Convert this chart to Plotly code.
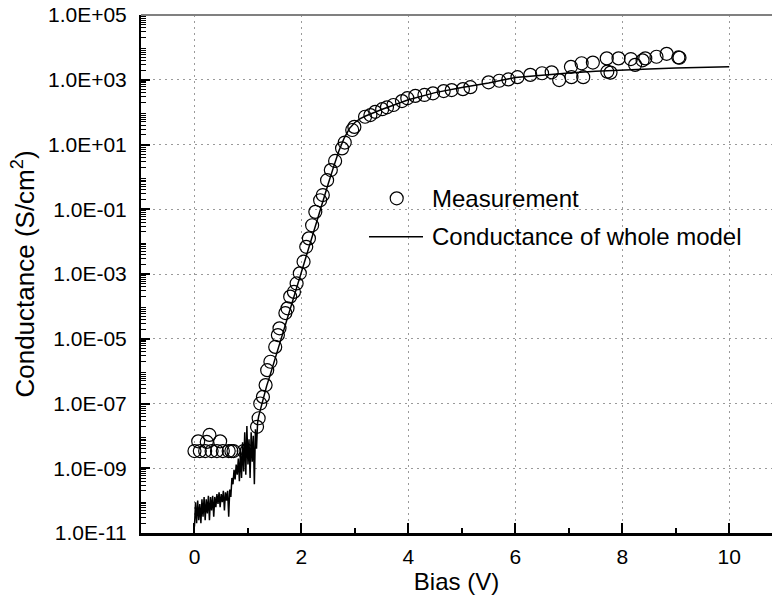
import plotly.graph_objects as go

# ---------------- data ----------------
meas_bias = [0.00, 0.07, 0.10, 0.20, 0.23, 0.28, 0.32, 0.42, 0.48, 0.53, 0.64, 0.69, 0.73,
             0.92, 0.98, 1.17, 1.20, 1.23, 1.28, 1.33, 1.36, 1.42, 1.51, 1.56, 1.59,
             1.70, 1.74, 1.79, 1.86, 1.91, 1.97, 2.04, 2.09, 2.14, 2.20, 2.26, 2.35,
             2.40, 2.48, 2.55, 2.63, 2.76, 2.81, 2.95, 2.99, 3.19, 3.29, 3.38, 3.51,
             3.60, 3.72, 3.88, 3.98, 4.13, 4.30, 4.46, 4.66, 4.81, 5.02, 5.16, 5.50,
             5.70, 5.87, 6.04, 6.28, 6.50, 6.68, 6.82, 7.04, 7.05, 7.24, 7.27, 7.45,
             7.71, 7.72, 7.78, 7.93, 8.16, 8.24, 8.38, 8.43, 8.64, 8.83, 9.05, 9.07]
meas_cond = [3.4e-9, 6.8e-9, 3.4e-9, 3.4e-9, 6.5e-9, 1.07e-8, 3.4e-9, 3.4e-9, 6.8e-9, 3.4e-9,
             3.4e-9, 3.4e-9, 3.4e-9, 3.4e-9, 3.5e-9, 1.9e-8, 3.5e-8, 1.0e-7, 1.6e-7, 3.7e-7,
             1.07e-6, 1.95e-6, 5.6e-6, 1.3e-5, 2.1e-5, 6.2e-5, 8.7e-5, 2.0e-4, 2.8e-4, 5.1e-4,
             1.05e-3, 2.4e-3, 6.9e-3, 1.26e-2, 3.2e-2, 8.3e-2, 0.19, 0.275, 0.79, 1.62,
             3.1, 7.6, 11.5, 28, 35, 72, 81, 102, 123, 141, 166, 219, 269, 316, 339, 380,
             447, 479, 513, 589, 832, 933, 1023, 1202, 1413, 1585, 1698, 977, 2512, 1202,
             3236, 1202, 3388, 4571, 1778, 1660, 4571, 4365, 2884, 3981, 4571, 5129, 6310,
             4898, 4786]

model_bias = [0.00, 0.02, 0.04, 0.06, 0.08, 0.10, 0.12, 0.14, 0.16, 0.18, 0.20, 0.22, 0.24,
              0.26, 0.28, 0.30, 0.32, 0.34, 0.36, 0.38, 0.40, 0.42, 0.44, 0.46, 0.48, 0.50,
              0.52, 0.54, 0.56, 0.58, 0.60, 0.62, 0.64, 0.66, 0.68, 0.70, 0.72, 0.74, 0.76,
              0.78, 0.80, 0.82, 0.84, 0.86, 0.88, 0.90, 0.92, 0.94, 0.96, 0.98, 1.00, 1.02,
              1.04, 1.06, 1.08, 1.10, 1.12, 1.14, 1.16, 1.18, 1.20, 1.25, 1.30, 1.35, 1.40,
              1.50, 1.60, 1.70, 1.80, 1.90, 2.00, 2.10, 2.20, 2.30, 2.40, 2.50, 2.60, 2.70,
              2.80, 2.90, 3.00, 3.10, 3.20, 3.50, 4.00, 4.50, 5.00, 5.50, 6.00, 6.50, 7.00,
              7.50, 8.00, 8.50, 9.00, 9.50, 10.00]
model_cond = [1.6e-11, 8.9e-11, 2.0e-11, 1.0e-10, 2.5e-11, 7.9e-11, 2.0e-11, 1.1e-10, 3.2e-11,
              1.3e-10, 2.5e-11, 1.1e-10, 4.0e-11, 1.4e-10, 2.5e-11, 1.3e-10, 5.0e-11, 1.4e-10,
              3.2e-11, 1.3e-10, 6.3e-11, 1.6e-10, 7.9e-11, 1.8e-10, 6.3e-11, 1.6e-10, 8.9e-11,
              2.0e-10, 5.0e-11, 1.8e-10, 1.0e-10, 2.0e-10, 3.2e-11, 2.2e-10, 1.3e-10, 5.0e-10,
              3.2e-10, 8.9e-10, 4.5e-10, 1.3e-9, 6.3e-10, 2.0e-9, 4.0e-10, 3.2e-9, 5.0e-10,
              6.3e-9, 7.9e-10, 1.3e-8, 6.3e-10, 2.0e-8, 1.3e-9, 7.9e-9, 5.0e-10, 1.3e-8,
              1.6e-9, 1.0e-8, 3.2e-10, 1.6e-8, 4.0e-9, 2.5e-8, 4.0e-8, 8.9e-8, 1.8e-7, 3.5e-7,
              6.3e-7, 2.2e-6, 7.9e-6, 2.8e-5, 1.0e-4, 3.7e-4, 1.35e-3, 4.7e-3, 1.6e-2, 5.4e-2,
              0.18, 0.60, 2.0, 6.3, 15.8, 31.6, 47.9, 63, 76, 120, 240, 400, 575, 795, 1175,
              1410, 1620, 1820, 2000, 2140, 2290, 2400, 2510]

x_tick_vals = [0, 2, 4, 6, 8, 10]
x_minor_vals = [1, 3, 5, 7, 9]
y_label_exponents = [-11, -9, -7, -5, -3, -1, 1, 3, 5]
y_plain_exponents = [-10, -8, -6, -4, -2, 0, 2, 4]
legend_labels = ["Measurement", "Conductance of whole model"]

# ---------------- figure ----------------
FONT = "Liberation Sans, Arial, sans-serif"

y_tick_vals = [10.0 ** k for k in y_label_exponents]
y_tick_text = ["1.0E%+03d" % k for k in y_label_exponents]
y_plain_vals = [10.0 ** k for k in y_plain_exponents]
y_minor_vals = [m * 10.0 ** k for k in range(-11, 5) for m in range(2, 10)]

GRID = dict(showgrid=True, gridcolor="#9a9a9a", griddash="2px,4px", gridwidth=1)

fig = go.Figure()
fig.add_trace(go.Scatter(
    x=meas_bias, y=meas_cond, mode="markers", name=legend_labels[0],
    marker=dict(symbol="circle-open", size=13, color="black", line=dict(width=1.2, color="black")),
    showlegend=False, cliponaxis=False))
fig.add_trace(go.Scatter(
    x=model_bias, y=model_cond, mode="lines", name=legend_labels[1],
    line=dict(color="black", width=1.5), showlegend=False))

L, T, W, H = 141, 15, 772, 601
B = 68
pw, ph = W - L, H - T - B


def px(xpix):
    return (xpix - L) / pw


def py(ypix):
    return (H - B - ypix) / ph


fig.update_layout(
    width=W, height=H,
    margin=dict(l=L, r=0, t=T, b=B, autoexpand=False),
    paper_bgcolor="white", plot_bgcolor="white",
    font=dict(family=FONT, color="black", size=21),
    xaxis=dict(
        range=[-1, 10.8], tickmode="array", tickvals=x_tick_vals,
        ticks="inside", ticklen=10, tickwidth=1.5, tickcolor="black",
        showline=True, linecolor="black", linewidth=2.5, zeroline=False,
        tickfont=dict(size=21, family=FONT), ticklabelstandoff=3,
        minor=dict(tickmode="array", tickvals=x_minor_vals, ticks="inside", ticklen=5,
                   tickwidth=1.5, tickcolor="black", showgrid=False),
        title=dict(text="Bias (V)", font=dict(size=24, family=FONT), standoff=6),
        automargin=False, **GRID,
    ),
    yaxis=dict(
        type="log", range=[-11, 5], tickmode="array", tickvals=y_tick_vals, ticktext=y_tick_text,
        ticks="inside", ticklen=9, tickwidth=1.5, tickcolor="black",
        showline=True, linecolor="black", linewidth=2, zeroline=False,
        tickfont=dict(size=21, family=FONT), ticklabelstandoff=8,
        minor=dict(tickmode="array", tickvals=y_minor_vals, ticks="inside", ticklen=5,
                   tickwidth=1, tickcolor="black", showgrid=False),
        title=dict(text="Conductance (S/cm<sup>2</sup>)", font=dict(size=26, family=FONT), standoff=6),
        automargin=False, **GRID,
    ),
    yaxis2=dict(
        type="log", range=[-11, 5], overlaying="y", side="left", anchor="x",
        tickmode="array", tickvals=y_plain_vals, showticklabels=False,
        ticks="inside", ticklen=9, tickwidth=1.5, tickcolor="black",
        showline=False, zeroline=False, automargin=False, **GRID,
    ),
    shapes=[
        dict(type="line", xref="paper", yref="paper", x0=0, x1=1, y0=1, y1=1,
             line=dict(color="#808080", width=2)),
        dict(type="circle", xref="paper", yref="paper",
             x0=px(396.7 - 6.5), x1=px(396.7 + 6.5), y0=py(198.3 + 6.5), y1=py(198.3 - 6.5),
             line=dict(color="black", width=1.2)),
        dict(type="line", xref="paper", yref="paper",
             x0=px(369), x1=px(423), y0=py(236.7), y1=py(236.7),
             line=dict(color="black", width=1.5)),
    ],
    annotations=[
        dict(text=legend_labels[0], xref="paper", yref="paper", x=px(430), y=py(198.3),
             xanchor="left", yanchor="middle", showarrow=False,
             font=dict(size=24, family=FONT, color="black")),
        dict(text=legend_labels[1], xref="paper", yref="paper", x=px(430), y=py(236.7),
             xanchor="left", yanchor="middle", showarrow=False,
             font=dict(size=24, family=FONT, color="black")),
    ],
)

fig.write_html("out.html")
